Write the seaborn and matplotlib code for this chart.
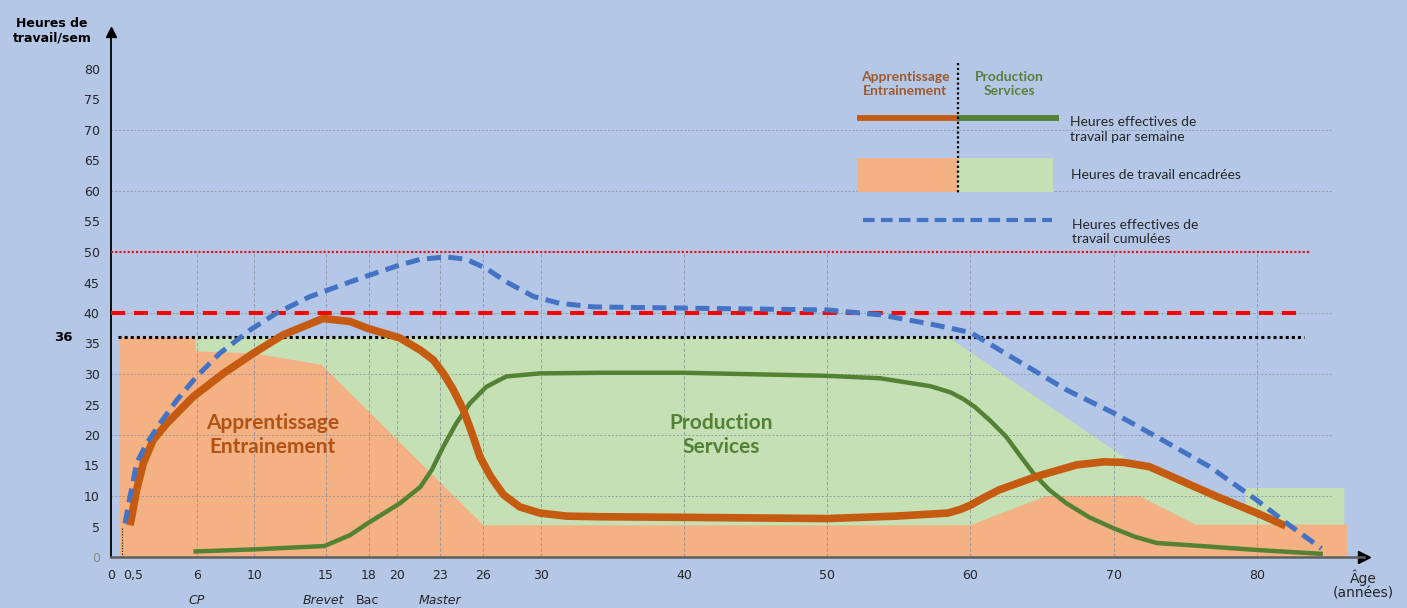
import numpy as np
import pandas as pd
import matplotlib
matplotlib.use("Agg")
import matplotlib.pyplot as plt
from matplotlib.lines import Line2D
from matplotlib.patches import Rectangle
import matplotlib.transforms as mtrans
import seaborn as sns

# ---------------- data ----------------
# weekly hours, "Apprentissage / Entrainement" (orange curve)
appr_age = [1.33, 1.79, 2.26, 2.95, 3.9, 5.75, 7.85, 9.94, 12.0, 14.8, 16.7, 17.9, 20.17,
            21.6, 22.5, 23.2, 23.9, 24.6, 25.2, 25.76, 26.5, 27.4, 28.55, 29.95, 31.8,
            34.1, 40.0, 50.0, 54.8, 58.4, 59.3, 60.0, 61.0, 62.0, 64.6, 67.4, 69.3, 70.7,
            72.5, 74.9, 77.2, 80.0, 82.0]
appr_hours = [5.2, 11.0, 15.4, 19.2, 21.9, 26.3, 30.1, 33.4, 36.4, 39.1, 38.6, 37.5, 35.9,
              33.9, 32.3, 30.1, 27.4, 24.1, 20.3, 16.4, 13.2, 10.2, 8.2, 7.2, 6.7,
              6.6, 6.5, 6.3, 6.7, 7.2, 7.8, 8.5, 9.8, 11.0, 13.2, 15.1, 15.6, 15.5,
              14.8, 12.3, 9.9, 7.2, 5.1]

# weekly hours, "Production / Services" (green curve)
prod_age = [5.75, 10.0, 14.9, 16.7, 17.9, 20.17, 21.6, 22.4, 23.2, 24.1, 25.06, 26.2, 27.6,
            29.95, 34.1, 40.0, 50.0, 53.7, 57.2, 58.6, 59.5, 60.3, 61.4, 62.5, 63.5, 64.4,
            65.5, 66.7, 68.3, 70.0, 71.5, 73.0, 76.7, 80.0, 84.6]
prod_hours = [0.9, 1.25, 1.8, 3.6, 5.5, 8.8, 11.5, 14.3, 18.1, 21.9, 25.2, 27.9, 29.6,
              30.1, 30.2, 30.2, 29.7, 29.3, 28.0, 27.0, 25.9, 24.6, 22.3, 19.7, 16.5, 13.7,
              11.0, 8.8, 6.5, 4.7, 3.3, 2.3, 1.7, 1.15, 0.5]

# cumulated effective hours (blue dashed)
cum_age = [0.98, 1.33, 1.79, 2.49, 3.42, 4.59, 5.98, 7.6, 9.7, 11.57, 13.9, 16.7, 17.9,
           20.2, 21.6, 23.4, 24.8, 26.2, 27.6, 29.5, 31.3, 33.7, 40.0, 50.0, 53.7, 57.2,
           60.0, 63.2, 66.7, 70.0, 73.0, 76.7, 80.0, 82.1, 84.5]
cum_hours = [5.5, 9.9, 15.4, 18.6, 21.9, 25.7, 29.6, 33.4, 37.2, 40.0, 42.7, 45.1, 46.1,
             47.9, 48.8, 49.2, 48.8, 47.3, 45.1, 42.7, 41.6, 41.0, 40.8, 40.5, 39.7, 38.2,
             36.8, 32.3, 27.4, 23.6, 19.7, 14.8, 9.3, 5.5, 1.4]

# supervised hours (filled areas)
orange_area_age = [0.6, 0.6, 5.9, 5.9, 9.9, 14.7, 26, 60, 65.3, 71.8, 75.7, 86.3, 86.3]
orange_area_top = [0, 36, 36, 33.7, 33.4, 31.5, 5.2, 5.2, 10, 10, 5.3, 5.3, 0]
green_area_age = [5.9, 5.9, 58.5, 70, 71.5, 74.9, 77.2, 79.2, 79.2, 86.1, 86.1]
green_area_top = [0, 36, 36, 17.5, 15.1, 12.3, 9.9, 8.0, 11.3, 11.3, 0]

# reference levels
ref_36 = 36
ref_40 = 40
ref_50 = 50

# axes ticks / labels
x_ticks = [0, 0.5, 6, 10, 15, 18, 20, 23, 26, 30, 40, 50, 60, 70, 80]
x_tick_labels = ["0", "", "6", "10", "15", "18", "20", "23", "26", "30", "40", "50",
                 "60", "70", "80"]
half_year_label = "0,5"
y_ticks = list(range(0, 85, 5))
vgrid_ages = [6, 10, 15, 18, 20, 23, 26, 30, 40, 50, 60, 70, 80]
hgrid_levels = [10, 20, 30, 40, 60, 70]
stage_ages = [6, 14.8, 17.9, 23]
stage_labels = ["CP", "Brevet", "Bac", "Master"]
stage_italic = [True, True, False, True]

# ---------------- style ----------------
BG = "#b4c7e7"
ORANGE_FILL = "#f4b183"
GREEN_FILL = "#c5e0b4"
ORANGE_LINE = "#c55a11"
GREEN_LINE = "#548235"
BLUE = "#4472c4"
RED = "#ff0000"
TXT = "#262626"
GRID = "#858b96"

sns.set_style("white")
plt.rcParams["font.family"] = ["DejaVu Sans"]

W, H = 1407, 608
fig = plt.figure(figsize=(W / 100, H / 100), dpi=100, facecolor=BG)
ax = fig.add_axes([111 / W, 51 / H, (1364.4 - 111) / W, (557 - 32.4) / H])
ax.set_facecolor(BG)
ax.set_xlim(0, 87.5)
ax.set_ylim(0, 86)

# filled areas
ax.fill(green_area_age, green_area_top, color=GREEN_FILL, lw=0, zorder=1)
ax.fill(orange_area_age, orange_area_top, color=ORANGE_FILL, lw=0, zorder=1.1)

# grid lines
ax.vlines(vgrid_ages, 0, 50, colors=GRID, linestyles=(0, (5, 3)), lw=0.5, zorder=2)
ax.hlines(hgrid_levels, 0, 85.2, colors=GRID, linestyles=(0, (3, 2.5)), lw=0.5, zorder=2)
ax.vlines([0.75], 0, 5, colors="black", linestyles=(0, (1, 1.5)), lw=0.8, zorder=2)

# reference lines
ax.hlines([ref_50], 0, 83.7, colors=RED, linestyles=(0, (1, 1)), lw=1.5, zorder=3)
ax.hlines([ref_40], 0, 83.3, colors=RED, linestyles=(0, (3.5, 2.2)), lw=2.9, zorder=3)
ax.hlines([ref_36], 0.5, 83.3, colors="black", linestyles=(0, (1, 1)), lw=2.2, zorder=3)

# curves
df_prod = pd.DataFrame({"age": prod_age, "h": prod_hours})
df_appr = pd.DataFrame({"age": appr_age, "h": appr_hours})
df_cum = pd.DataFrame({"age": cum_age, "h": cum_hours})
sns.lineplot(data=df_prod, x="age", y="h", ax=ax, color=GREEN_LINE, linewidth=3.2,
             sort=False, estimator=None, zorder=4, solid_joinstyle="round",
             solid_capstyle="butt")
sns.lineplot(data=df_appr, x="age", y="h", ax=ax, color=ORANGE_LINE, linewidth=5.5,
             sort=False, estimator=None, zorder=5, solid_joinstyle="round",
             solid_capstyle="butt")
sns.lineplot(data=df_cum, x="age", y="h", ax=ax, color=BLUE, linewidth=3.6,
             sort=False, estimator=None, zorder=6)
ax.lines[-1].set_linestyle((0, (2.8, 1.5)))

ax.set_xlabel("")
ax.set_ylabel("")

# axes / ticks
for s in ["top", "right"]:
    ax.spines[s].set_visible(False)
ax.spines["left"].set_color("black")
ax.spines["left"].set_linewidth(1.3)
ax.spines["bottom"].set_color("#5f5f5f")
ax.spines["bottom"].set_linewidth(1.8)
ax.plot(1, 0, marker=">", ms=8, color="black", transform=ax.transAxes, clip_on=False)
ax.plot(0, 1, marker="^", ms=7, color="black", transform=ax.transAxes, clip_on=False)

ax.set_xticks(x_ticks)
ax.set_xticklabels(x_tick_labels)
ax.set_yticks(y_ticks)
ax.set_yticklabels([str(v) for v in y_ticks])
ax.tick_params(axis="both", direction="inout", length=9, width=1.5, color="black",
               labelsize=9, labelcolor=TXT)
ax.tick_params(axis="y", pad=3.6)
ax.tick_params(axis="x", pad=4.2)
ax.get_yticklabels()[0].set_color("#8a8a8a")

xt = ax.get_xaxis_transform()
# "0,5" label sits a little right of its tick in the reference
ax.annotate(half_year_label, xy=(0.5, 0), xycoords=xt, xytext=(11, -13.5),
            textcoords="offset points", ha="center", va="center", fontsize=9, color=TXT)

# texts in the chart
ax.text(11.3, 20, "Apprentissage\nEntrainement", ha="center", va="center",
        family="Lato", fontweight="bold", fontsize=15, color="#b05315", zorder=7,
        linespacing=1.25)
ax.text(42.6, 20, "Production\nServices", ha="center", va="center",
        family="Lato", fontweight="bold", fontsize=15, color=GREEN_LINE, zorder=7,
        linespacing=1.25)
ax.text(-3.35, ref_36, "36", ha="center", va="center", fontweight="bold",
        fontsize=9.5, color="black")

for a, lab, it in zip(stage_ages, stage_labels, stage_italic):
    ax.text(a, -0.082, lab, transform=xt, ha="center", va="center", fontsize=9,
            style="italic" if it else "normal", color=TXT)
ax.text(87.4, -0.053, "Âge\n(années)", transform=xt, ha="center", va="center",
        fontsize=10, color=TXT, linespacing=1.1)

fig.text(52 / W, 1 - 31 / H, "Heures de\ntravail/sem", ha="center", va="center",
         fontweight="bold", fontsize=9, color="black", linespacing=1.15)

# ---------------- legend (drawn in image pixel coords) ----------------
pix = mtrans.Affine2D().scale(1 / W, -1 / H).translate(0, 1) + fig.transFigure
fig.add_artist(Line2D([856.7, 957.7], [118.3, 118.3], transform=pix, color=ORANGE_LINE,
                      lw=4.2, solid_capstyle="butt"))
fig.add_artist(Line2D([957.7, 1059], [118.3, 118.3], transform=pix, color=GREEN_LINE,
                      lw=4.2, solid_capstyle="butt"))
fig.add_artist(Rectangle((856.7, 158.3), 101, 33.4, transform=pix, color=ORANGE_FILL, lw=0))
fig.add_artist(Rectangle((957.7, 158.3), 95.3, 33.4, transform=pix, color=GREEN_FILL, lw=0))
fig.add_artist(Line2D([863, 1052], [220, 220], transform=pix, color=BLUE, lw=3,
                      linestyle=(0, (2.8, 1.5))))
fig.add_artist(Line2D([957.7, 957.7], [63, 193], transform=pix, color="black", lw=1.6,
                      linestyle=(0, (1, 1.2))))
fig.text(905 / W, 1 - 84 / H, "Apprentissage\nEntrainement", ha="center", va="center",
         family="Lato", fontweight="bold", fontsize=10, color="#9e5a2c", linespacing=1.2)
fig.text(1009 / W, 1 - 84 / H, "Production\nServices", ha="center", va="center",
         family="Lato", fontweight="bold", fontsize=10, color="#5b7f3c", linespacing=1.2)
fig.text(1070 / W, 1 - 129.5 / H, "Heures effectives de\ntravail par semaine", ha="left",
         va="center", family="Lato", fontsize=10, color=TXT, linespacing=1.25)
fig.text(1071 / W, 1 - 175 / H, "Heures de travail encadrées", ha="left", va="center",
         family="Lato", fontsize=10, color=TXT)
fig.text(1072 / W, 1 - 232 / H, "Heures effectives de\ntravail cumulées", ha="left",
         va="center", family="Lato", fontsize=10, color=TXT, linespacing=1.25)

fig.savefig("out.png", dpi=100, facecolor=BG)
